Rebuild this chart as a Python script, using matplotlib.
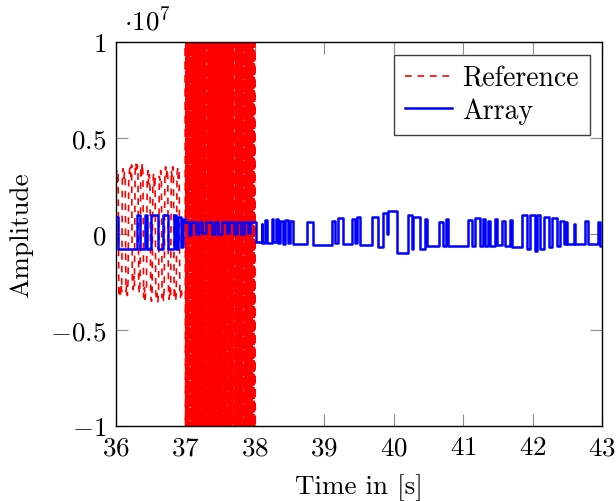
import numpy as np
import matplotlib
matplotlib.use("Agg")
import matplotlib.pyplot as plt
from matplotlib.ticker import FixedLocator, FixedFormatter

plt.rcParams['font.family'] = ['cmr10', 'DejaVu Serif']
plt.rcParams['mathtext.fontset'] = 'cm'
plt.rcParams['axes.unicode_minus'] = False

# ---------------- data (amplitude in units of 1e7) ----------------
# Reference signal, part 1: 36.00 .. 36.95 s (moderate oscillation)
ref_a = [
    0.30, 0.33, 0.27, 0.31, -0.31, -0.28, -0.33, -0.26, -0.30,
    0.31, 0.34, 0.29, 0.32, 0.28, -0.30, -0.27, -0.32, -0.24,
    0.28, 0.33, 0.35, 0.30, 0.36, -0.25, -0.29, -0.22, -0.27,
    0.34, 0.37, 0.32, 0.36, 0.33, -0.27, -0.31, -0.24,
    0.35, 0.30, 0.37, 0.31, -0.33, -0.28, -0.34, -0.30, -0.27,
    0.29, 0.33, 0.26, 0.31, 0.24, -0.32, -0.35, -0.29,
    0.27, 0.31, 0.25, 0.29, -0.30, -0.34, -0.31, -0.36, -0.29,
    0.30, 0.28, 0.33, 0.29, -0.33, -0.30, -0.35, -0.28,
    0.32, 0.35, 0.30, 0.34, 0.29, -0.31, -0.34, -0.28, -0.33,
    0.33, 0.30, 0.35, 0.31, -0.32, -0.29, -0.35, -0.31,
    0.31, 0.34, 0.29, 0.33, -0.30, -0.33, -0.28, -0.32,
]
ref_a_start, ref_a_end = 36.0, 36.95

# Reference signal, part 2: 37.00 .. 38.00 s (saturated, beyond the axis)
ref_b = [
    1.18, -1.21, 1.05, -1.17, 1.13, -1.04, 1.19, -1.12, 1.03, -1.28,
    1.10, -1.15, 1.16, -1.04, 1.02, -1.19, 1.12, -1.33, 1.07, -1.10,
    1.14, -1.06, 1.20, -1.22, 1.08, -1.13, 1.15, -1.04, 1.11, -1.27,
    1.03, -1.12, 1.19, -1.05, 1.06, -1.20, 1.14, -1.13, 1.02, -1.08,
    1.10, -1.31, 1.05, -1.16, 1.17, -1.05, 1.04, -1.12, 1.12, -1.19,
    1.16, -1.04, 1.13, -1.27, 1.03, -1.10, 1.19, -1.15, 1.08, -1.02,
    1.02, -1.16, 1.11, -1.23, 1.15, -1.04, 1.07, -1.18, 1.20, -1.14,
    1.14, -1.01, 1.06, -1.22, 1.12, -1.09, 1.03, -1.17, 1.18, -1.35,
    1.09, -1.13, 1.02, -1.03, 1.18, -1.16, 1.10, -1.24, 1.05, -1.10,
    1.17, -1.08, 1.14, -1.12, 1.03, -1.02, 1.16, -1.25, 1.11, -1.07,
    1.04, -1.19, 1.08, -1.11, 1.12, -1.13, 1.13, -1.06, 1.05, -1.34,
    1.20, -1.14, 1.07, -1.08, 1.13, -1.20, 1.09, -1.15, 1.16, -1.02,
    1.06, -1.26, 1.19, -1.04, 1.02, -1.11, 1.15, -1.18, 1.10, -1.09,
]
ref_b_start, ref_b_end = 37.0, 38.0

# Array signal: step changes (time in s, level from that time on)
arr_t = [
    36.00, 36.03, 36.30, 36.34, 36.42, 36.45, 36.50, 36.60, 36.67, 36.75,
    36.83, 36.87, 36.90, 36.93, 36.96,
    37.00, 37.05, 37.08, 37.15, 37.20, 37.24, 37.30, 37.38, 37.42, 37.47,
    37.52, 37.60, 37.63, 37.70, 37.74, 37.80, 37.84, 37.90, 37.93,
    38.02, 38.10, 38.11, 38.146, 38.175, 38.247, 38.268, 38.304, 38.333,
    38.362, 38.405, 38.434, 38.477, 38.506, 38.549, 38.751, 38.837,
    39.111, 39.154, 39.197, 39.269, 39.399, 39.442, 39.471, 39.514,
    39.687, 39.773, 39.846, 39.903, 39.918, 40.047, 40.206, 40.263,
    40.277, 40.378, 40.450, 40.479, 40.652, 40.710, 40.753, 40.782,
    41.070, 41.127, 41.171, 41.243, 41.286, 41.315, 41.358, 41.387,
    41.459, 41.488, 41.560, 41.603, 41.675, 41.704, 41.848, 41.920,
    41.963, 42.035, 42.064, 42.107, 42.165, 42.237, 42.280, 42.352,
    42.395, 42.452, 42.481, 42.496, 42.597, 42.611, 42.755, 42.798,
    42.942, 42.971, 43.00,
]
arr_v = [
    0.09, -0.08, 0.10, -0.08, 0.10, -0.08, 0.10, -0.08, 0.10, -0.08,
    0.10, -0.08, 0.09, -0.07, 0.08,
    0.06, -0.005, 0.065, 0.0, 0.06, 0.005, 0.065, 0.0, 0.06, 0.0,
    0.065, 0.005, 0.06, 0.0, 0.065, 0.0, 0.06, 0.005, 0.065,
    -0.04, 0.05, -0.045, 0.075, -0.045, 0.08, -0.04, 0.08, -0.045,
    0.07, -0.05, 0.075, -0.045, 0.07, -0.05, 0.06, -0.055,
    0.07, -0.045, 0.085, -0.05, 0.08, -0.045, 0.09, -0.055,
    0.09, -0.07, 0.11, 0.0, 0.12, -0.10, 0.10, -0.08,
    0.09, -0.08, 0.08, -0.065, 0.06, -0.06, 0.08, -0.06,
    0.075, -0.06, 0.085, -0.06, 0.08, -0.06, 0.07, -0.06,
    0.08, -0.055, 0.07, -0.06, 0.075, -0.07, 0.10, -0.08,
    0.10, -0.09, 0.10, -0.08, 0.09, -0.07, 0.085, -0.06,
    0.07, -0.05, 0.06, -0.05, 0.05, -0.05, 0.07, -0.05,
    0.06, -0.06, -0.06,
]

x_ticks = [36, 37, 38, 39, 40, 41, 42, 43]
y_ticks = [-1, -0.5, 0, 0.5, 1]
y_tick_labels = [r'$-1$', r'$-0.5$', r'$0$', r'$0.5$', r'$1$']
x_label = 'Time in [s]'
y_label = 'Amplitude'
series_names = ['Reference', 'Array']

# ---------------- figure ----------------
fig = plt.figure(figsize=(6.16, 5.02), dpi=100)
ax = fig.add_axes([116 / 616, 1 - 427 / 502, 486 / 616, 384 / 502])

ref_ta = np.linspace(ref_a_start, ref_a_end, len(ref_a))
ref_tb = np.linspace(ref_b_start, ref_b_end, len(ref_b))
ax.plot(ref_ta, ref_a, color='#ff0000', lw=1.2, dashes=(4, 3.5), zorder=2)
ax.plot(ref_tb, ref_b, color='#ff0000', lw=1.8, dashes=(3.2, 2.2), zorder=2)
ax.step(arr_t, arr_v, where='post', color='#0000ff', lw=1.8, zorder=3)

# legend entries
leg_ref, = ax.plot([], [], color='#ff0000', lw=1.2, dashes=(4, 3.5))
leg_arr, = ax.plot([], [], color='#0000ff', lw=1.8)

ax.set_xlim(36, 43)
ax.set_ylim(-1, 1)
ax.xaxis.set_major_locator(FixedLocator(x_ticks))
ax.xaxis.set_major_formatter(FixedFormatter([rf'${t}$' for t in x_ticks]))
ax.yaxis.set_major_locator(FixedLocator(y_ticks))
ax.yaxis.set_major_formatter(FixedFormatter(y_tick_labels))
ax.tick_params(which='both', direction='in', length=8.5, width=0.8,
               color='#8c8c8c', top=True, right=True, labelsize=19.5, pad=7)
for sp in ax.spines.values():
    sp.set_linewidth(1.0)
    sp.set_color('black')

ax.set_xlabel(x_label, fontsize=19.5, labelpad=10)
ax.set_ylabel(y_label, fontsize=19.5, labelpad=12)
ax.annotate(r'$\cdot 10^{7}$', xy=(0, 1), xycoords='axes fraction',
            xytext=(6, 9), textcoords='offset points', fontsize=19.5,
            ha='left', va='baseline')

leg = ax.legend([leg_ref, leg_arr], series_names, loc='upper right',
                fontsize=20, frameon=True, fancybox=False,
                edgecolor='#404040', framealpha=1, borderaxespad=0.45,
                handlelength=1.7, handletextpad=0.35, labelspacing=0.2,
                borderpad=0.4)
leg.get_frame().set_linewidth(1.0)

fig.savefig('out.png', dpi=100)
